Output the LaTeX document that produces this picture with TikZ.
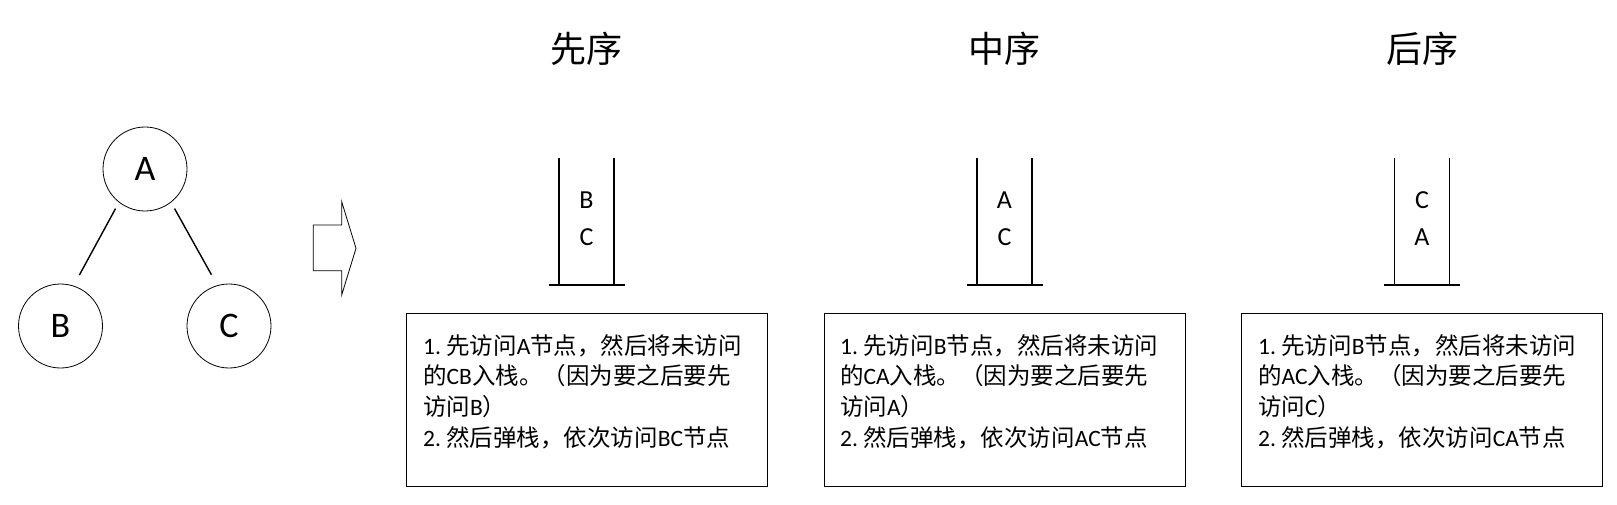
\documentclass[tikz,border=0pt]{standalone}
\usepackage{fontspec}
\setmainfont{Carlito}
\newfontfamily\zhfont{Noto Sans CJK SC}
\newcommand\zh[1]{{\zhfont #1}}
\begin{document}
\begin{tikzpicture}[x=1pt,y=-1pt,
  treenode/.style={circle, draw, line width=0.8pt, minimum size=84pt, inner sep=0pt, font=\fontsize{36}{40}\selectfont},
  treeedge/.style={line width=1.4pt, shorten <=7pt, shorten >=12pt},
  wall/.style={line width=1.2pt},
  stackitem/.style={inner sep=0pt, font=\fontsize{26}{30}\selectfont},
  title/.style={inner sep=0pt, font=\zhfont\fontsize{36}{40}\selectfont},
  descbox/.style={draw, line width=1pt, minimum width=361pt, minimum height=173pt, inner sep=0pt},
  desc/.style={align=left, inner sep=0pt, font=\fontsize{23.5}{30.7}\selectfont},
  blockarrow/.style={draw, line width=0.8pt}]
\path[use as bounding box] (0,0) rectangle (1617,505);

% tree
\node[treenode] (A) at (145,169) {A};
\node[treenode] (B) at (60.5,326) {B};
\node[treenode] (C) at (229,326) {C};
\draw[treeedge] (A.232) -- (B.72);
\draw[treeedge] (A.308) -- (C.106);

% block arrow
\draw[blockarrow] (313.3,225) -- (341.7,225) -- (341.7,201.7) -- (356,248.3)
  -- (341.7,295) -- (341.7,270.7) -- (313.3,270.7) -- cycle;

% titles
\node[title] (t1) at (586,49) {先序};
\node[title] (t2) at (1004.5,49) {中序};
\node[title] (t3) at (1422,49) {后序};

% stacks
\foreach \i/\cx/\p/\q in {1/586.5/B/C, 2/1004.5/A/C, 3/1422/C/A}{
  \draw[wall] (\cx-27.5,158) -- (\cx-27.5,285);
  \draw[wall] (\cx+27.5,158) -- (\cx+27.5,285);
  \draw[wall] (\cx-38,285) -- (\cx+38,285);
  \node[stackitem] (s\i a) at (\cx,200) {\p};
  \node[stackitem] (s\i b) at (\cx,237.5) {\q};
  \node[descbox] (box\i) at (\cx,400) {};
}

% descriptions (base anchor = last line)
\node[desc, anchor=base west] (d1) at (423,446.1)
 {1.\ \zh{先访问}A\zh{节点，然后将未访问}\\
  \zh{的}CB\zh{入栈。（因为要之后要先}\\
  \zh{访问}B\zh{）}\\
  2.\ \zh{然后弹栈，依次访问}BC\zh{节点}};
\node[desc, anchor=base west] (d2) at (840,446.1)
 {1.\ \zh{先访问}B\zh{节点，然后将未访问}\\
  \zh{的}CA\zh{入栈。（因为要之后要先}\\
  \zh{访问}A\zh{）}\\
  2.\ \zh{然后弹栈，依次访问}AC\zh{节点}};
\node[desc, anchor=base west] (d3) at (1258,446.1)
 {1.\ \zh{先访问}B\zh{节点，然后将未访问}\\
  \zh{的}AC\zh{入栈。（因为要之后要先}\\
  \zh{访问}C\zh{）}\\
  2.\ \zh{然后弹栈，依次访问}CA\zh{节点}};
\end{tikzpicture}
\end{document}
